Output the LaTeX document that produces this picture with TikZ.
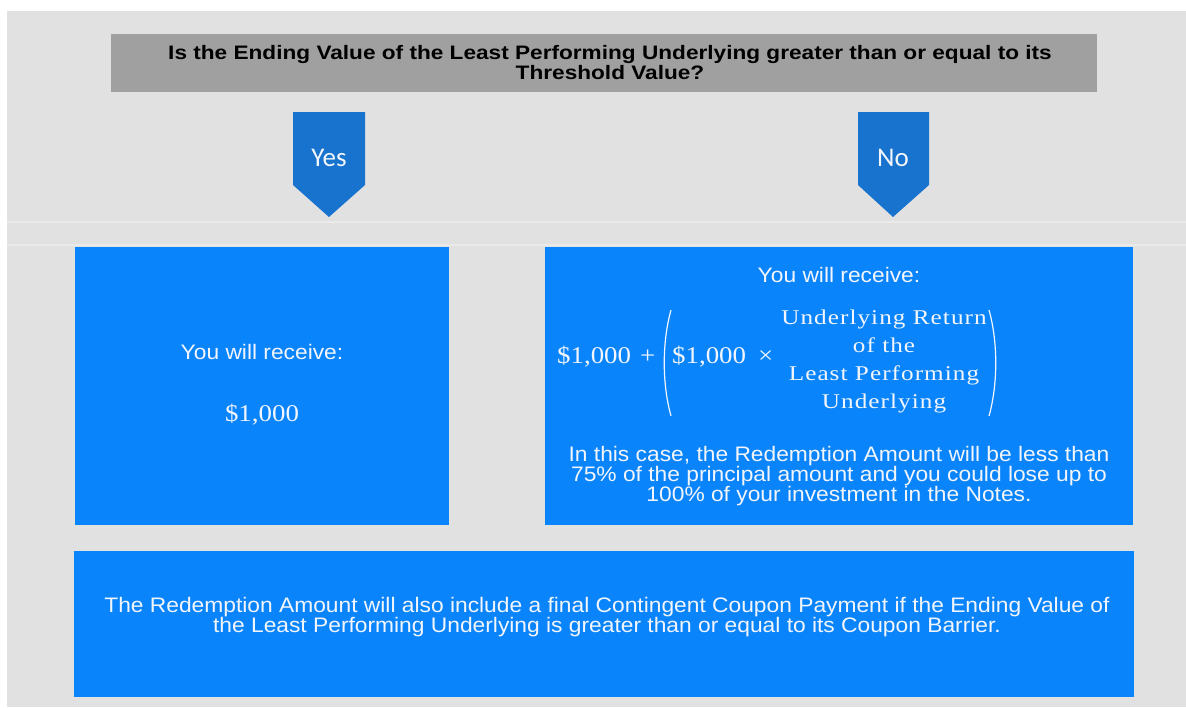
\documentclass[tikz,border=0pt]{standalone}
\usepackage{fontspec}
\setmainfont[FakeStretch=1.085]{Liberation Sans}
\newfontfamily\titlefont[FakeStretch=1.16]{Liberation Sans}
\newfontfamily\yesnofont{Carlito}
\newfontfamily\serifnum[FakeStretch=1.12]{Liberation Serif}
\newfontfamily\serifwide[FakeStretch=1.2, LetterSpace=5]{Liberation Serif}
\usetikzlibrary{positioning}

\definecolor{bggray}{RGB}{225,225,225}
\definecolor{bandgray}{RGB}{234,234,234}
\definecolor{titlegray}{RGB}{160,160,160}
\definecolor{arrowblue}{RGB}{23,115,205}
\definecolor{boxblue}{RGB}{10,132,250}
\definecolor{paletext}{RGB}{242,246,252}

\tikzset{
  box/.style = {fill=boxblue, inner sep=0pt},
  txt/.style = {text=paletext, inner sep=0pt, align=center, font=\fontsize{21}{20}\selectfont},
  numtxt/.style = {text=paletext, inner sep=0pt, font=\serifnum\fontsize{24}{28}\selectfont},
  answer/.style = {fill=arrowblue},
  answertxt/.style = {text=paletext, inner sep=0pt, font=\yesnofont\fontsize{27}{27}\selectfont},
  paren/.style = {draw=paletext, line width=1.2pt}
}

\begin{document}
\begin{tikzpicture}[x=1pt, y=-1pt]
\useasboundingbox (0,0) rectangle (1186,707);
\fill[bggray] (7,11) rectangle (1186,707);
\draw[bandgray, line width=1.5pt] (7,222) -- (1186,222) (7,245) -- (1186,245);

% question
\node[fill=titlegray, minimum width=986pt, minimum height=58pt, inner sep=0pt] (question) at (604,63) {};
\node[inner sep=0pt, align=center, font=\titlefont\bfseries\fontsize{19.5}{20}\selectfont] (questiontxt) at (610,63)
  {Is the Ending Value of the Least Performing Underlying greater than or equal to its\\Threshold Value?};

% answers
\fill[answer] (293,112) -- (365,112) -- (365,185) -- (329,217) -- (293,185) -- cycle;
\fill[answer] (858,112) -- (929,112) -- (929,185) -- (893,217) -- (858,185) -- cycle;
\node[answertxt] (yes) at (329,158) {Yes};
\node[answertxt] (no) at (893,158) {No};

% yes case
\node[box, minimum width=374pt, minimum height=278pt] (yesbox) at (262,386) {};
\node[txt] (yesrecv) at (262,352) {You will receive:};
\node[numtxt] (yesamt) at (262,415) {\$1,000};

% no case
\node[box, minimum width=588pt, minimum height=278pt] (nobox) at (839,386) {};
\node[txt] (norecv) at (839,275) {You will receive:};
\node[numtxt, anchor=west] (principal) at (557,357) {\$1,000\hspace{9pt}+};
\node[numtxt, anchor=west] (product) at (672,357) {\$1,000\hspace{12pt}×};
\node[numtxt, align=center, font=\serifwide\fontsize{21}{28}\selectfont] (ret) at (884,361)
  {Underlying Return\\of the\\Least Performing\\Underlying};
\draw[paren] (671,310) .. controls (662,342) and (662,384) .. (671,416);
\draw[paren] (989,310) .. controls (998,342) and (998,384) .. (989,416);
\node[txt] (loss) at (839,476)
  {In this case, the Redemption Amount will be less than\\75\% of the principal amount and you could lose up to\\100\% of your investment in the Notes.};

% coupon
\node[box, minimum width=1060pt, minimum height=146pt] (couponbox) at (604,624) {};
\node[txt] (coupon) at (607,617)
  {The Redemption Amount will also include a final Contingent Coupon Payment if the Ending Value of\\the Least Performing Underlying is greater than or equal to its Coupon Barrier.};
\end{tikzpicture}
\end{document}
